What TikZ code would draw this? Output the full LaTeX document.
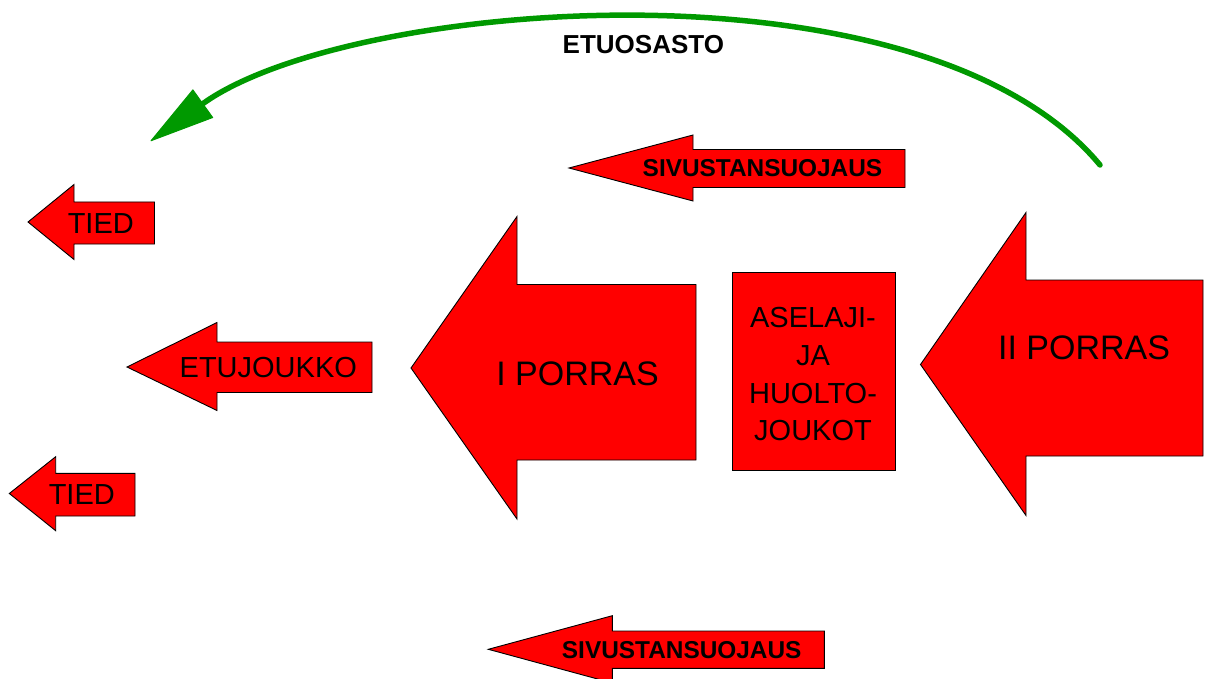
\documentclass[tikz,border=0pt]{standalone}
\usepackage{fontspec}
\setmainfont{Liberation Sans}
\usetikzlibrary{arrows.meta}
\definecolor{armygreen}{RGB}{0,153,0}
\definecolor{shapered}{RGB}{255,0,0}
\begin{document}
\begin{tikzpicture}[x=1pt,y=-1pt,
  redshape/.style={fill=shapered, draw=black, line width=0.9pt, line join=miter},
  lbl/.style={inner sep=0pt, font=\fontsize{29}{37.8}\selectfont},
  blbl/.style={inner sep=0pt, font=\bfseries\fontsize{24.4}{29}\selectfont},
  biglbl/.style={inner sep=0pt, font=\fontsize{34}{40}\selectfont},
  titlelbl/.style={inner sep=0pt, font=\bfseries\fontsize{26}{31}\selectfont},
  greenarc/.style={draw=armygreen, line width=5.5pt, line cap=round}]
\useasboundingbox (0,0) rectangle (1210,679);

% green arc ETUOSASTO
\coordinate (arcS) at (1100,165);
\coordinate (arcE) at (150.7,141);
\draw[greenarc, -{Triangle[length=66pt,width=35pt,line width=1pt,round]}]
  (arcS) .. controls (923,-48) and (349,-1) .. (arcE);
\node[titlelbl] (etuosasto) at (643.4,44.2) {ETUOSASTO};

% top flank arrow
\draw[redshape] (569,168) -- (693,135) -- (693,149.5) -- (905,149.5) -- (905,187.5)
  -- (693,187.5) -- (693,201) -- cycle;
\node[blbl] (sivtop) at (762.5,167.7) {SIVUSTANSUOJAUS};

% TIED top
\draw[redshape] (28,222) -- (74,184.5) -- (74,202) -- (154.5,202) -- (154.5,244)
  -- (74,244) -- (74,259.5) -- cycle;
\node[lbl] (tiedtop) at (100.8,223.3) {TIED};

% ETUJOUKKO
\draw[redshape] (127,367) -- (217,322.5) -- (217,342) -- (372,342) -- (372,392.5)
  -- (217,392.5) -- (217,410.5) -- cycle;
\node[lbl] (etujoukko) at (268.3,367.5) {ETUJOUKKO};

% TIED bottom
\draw[redshape] (9.3,493.5) -- (55.7,456.7) -- (55.7,473.3) -- (135,473.3) -- (135,516)
  -- (55.7,516) -- (55.7,530.7) -- cycle;
\node[lbl] (tiedbot) at (81.8,495) {TIED};

% I PORRAS
\draw[redshape] (411,368) -- (517,216.5) -- (517,284.5) -- (696,284.5) -- (696,460)
  -- (517,460) -- (517,519) -- cycle;
\node[biglbl] (porras1) at (577.5,374.2) {I PORRAS};

% ASELAJI- JA HUOLTOJOUKOT
\draw[redshape] (732,272.3) rectangle (895.7,470.5);
\node[lbl, align=center] (huolto) at (813,374.2) {ASELAJI-\\JA\\HUOLTO-\\JOUKOT};

% II PORRAS
\draw[redshape] (920.5,364.5) -- (1026,212.5) -- (1026,280) -- (1203,280) -- (1203,456)
  -- (1026,456) -- (1026,515.5) -- cycle;
\node[biglbl] (porras2) at (1084,347.5) {II PORRAS};

% bottom flank arrow
\draw[redshape] (488.3,649.3) -- (612.3,615.7) -- (612.3,631) -- (824.3,631) -- (824.3,668.3)
  -- (612.3,668.3) -- (612.3,683) -- cycle;
\node[blbl] (sivbot) at (681.7,650.5) {SIVUSTANSUOJAUS};
\end{tikzpicture}
\end{document}
